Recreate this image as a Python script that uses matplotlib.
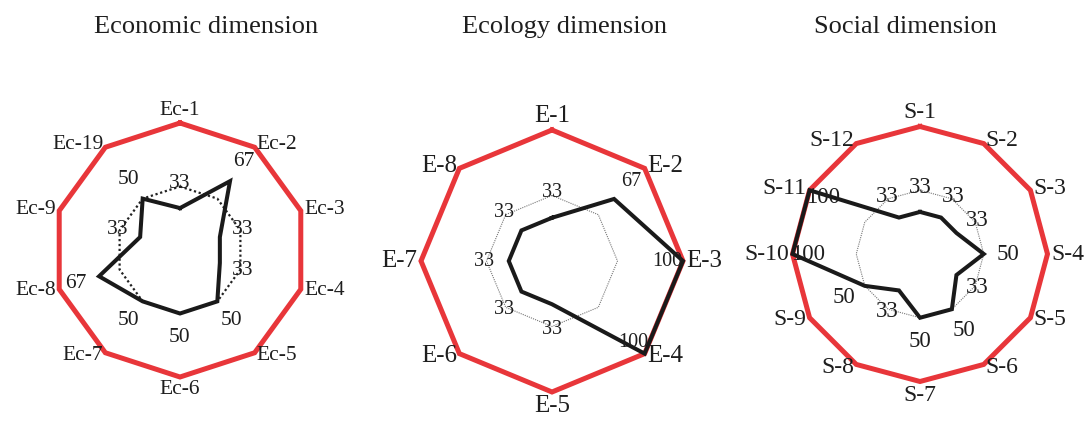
import numpy as np
import matplotlib.pyplot as plt

plt.rcParams['font.family'] = ['Liberation Serif', 'DejaVu Serif']

# data
eco_labels = ["Ec-1", "Ec-2", "Ec-3", "Ec-4", "Ec-5", "Ec-6", "Ec-7", "Ec-8", "Ec-9", "Ec-19"]
eco_values = [33, 67, 33, 33, 50, 50, 50, 67, 33, 50]

ecl_labels = ["E-1", "E-2", "E-3", "E-4", "E-5", "E-6", "E-7", "E-8"]
ecl_values = [33, 67, 100, 100, 33, 33, 33, 33]

soc_labels = ["S-1", "S-2", "S-3", "S-4", "S-5", "S-6", "S-7", "S-8", "S-9", "S-10", "S-11", "S-12"]
soc_values = [33, 33, 33, 50, 33, 50, 50, 33, 50, 100, 100, 33]

titles = ["Economic dimension", "Ecology dimension", "Social dimension"]

RED = "#e8363a"
TXT = "#1e1e1e"

W, H = 1088, 421
fig = plt.figure(figsize=(W / 100, H / 100), dpi=100)


def radar(rect, labels, values, ring_style, lab_size, val_size):
    ax = fig.add_axes(rect, projection="polar")
    ax.set_theta_zero_location("N")
    ax.set_theta_direction(-1)
    ax.set_ylim(0, 100)
    ax.grid(False)
    ax.set_xticks([])
    ax.set_yticks([])
    ax.spines["polar"].set_visible(False)
    ax.patch.set_visible(False)

    n = len(labels)
    theta = np.arange(n) * 2 * np.pi / n
    closed = np.append(theta, theta[0])

    ax.plot(closed, [100] * (n + 1), color=RED, lw=3.6, solid_joinstyle="miter", clip_on=False)
    ax.plot(closed, [50] * (n + 1), **ring_style)
    vals = np.array(values, dtype=float)
    ax.plot(closed, np.append(vals, vals[0]), color="#1a1a1a", lw=2.9,
            solid_joinstyle="miter", clip_on=False)

    for t, lab, v in zip(theta, labels, vals):
        s, c = np.sin(t), np.cos(t)
        if abs(s) < 0.1:
            ha = "center"
            va = "bottom" if c > 0 else "top"
        else:
            ha = "left" if s > 0 else "right"
            va = "center"
        ax.annotate(lab, (t, 100), xytext=(2.5 * s, 2.5 * c), textcoords="offset points",
                    ha=ha, va=va, fontsize=lab_size, color=TXT, annotation_clip=False)
        ax.text(t, min(v + 19, 88), f"{int(v)}", ha="center", va="center",
                fontsize=val_size, color=TXT)
    return ax


def rect(cx, cy, r):
    return [(cx - r) / W, (H - cy - r) / H, 2 * r / W, 2 * r / H]


radar(rect(180, 250, 127), eco_labels, eco_values,
      dict(color="#222222", lw=1.6, ls=(0, (1, 1.2))), 15.5, 15.5)
radar(rect(552, 261, 131), ecl_labels, ecl_values,
      dict(color="#777777", lw=0.8, ls=(0, (1, 1))), 18, 14.5)
radar(rect(920, 254, 127.5), soc_labels, soc_values,
      dict(color="#777777", lw=0.8, ls=(0, (1, 1))), 17, 16.5)

for x, t in zip([206, 565, 905], titles):
    fig.text(x / W, 1 - 27 / H, t, ha="center", va="center", fontsize=19, color=TXT)

fig.savefig("out.png", dpi=100)
